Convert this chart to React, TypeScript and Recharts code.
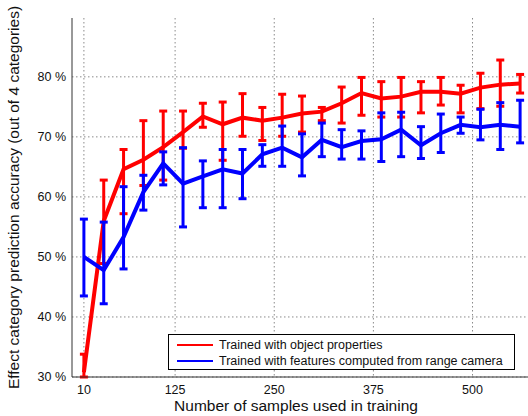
import { LineChart, Line, XAxis, YAxis, CartesianGrid, ErrorBar } from "recharts";

// number of training samples (x positions of the points)
const samples = [10, 35, 60, 85, 110, 135, 160, 185, 210, 235, 260, 285, 310, 335, 360, 385, 410, 435, 460, 485, 510, 535, 560];

// object properties (red): mean accuracy and error bar ends, in %
const objMean = [30.8, 56.0, 64.6, 66.2, 68.3, 70.8, 73.4, 72.1, 73.2, 72.7, 73.2, 73.9, 74.2, 75.6, 77.3, 76.4, 76.7, 77.5, 77.5, 77.2, 78.2, 78.7, 78.9];
const objLow = [30.0, 48.9, 57.2, 61.9, 62.8, 68.1, 71.6, 66.1, 70.1, 69.4, 70.1, 70.8, 72.7, 72.3, 73.6, 73.3, 73.3, 74.0, 75.3, 74.0, 74.7, 75.1, 77.3];
const objHigh = [33.8, 62.8, 67.9, 72.7, 74.3, 74.3, 75.6, 75.8, 77.2, 74.9, 77.1, 76.8, 74.9, 78.3, 79.9, 79.2, 79.9, 79.2, 79.9, 78.6, 80.6, 82.8, 80.4];

// range camera features (blue)
const camMean = [50.0, 47.8, 53.3, 60.8, 65.6, 62.2, 63.4, 64.6, 63.9, 67.1, 68.2, 66.6, 69.5, 68.3, 69.3, 69.6, 71.2, 68.6, 70.6, 72.0, 71.6, 72.0, 71.7];
const camLow = [43.5, 42.2, 48.0, 57.8, 62.0, 55.0, 58.2, 58.2, 59.7, 65.1, 65.1, 63.5, 66.7, 66.3, 66.3, 65.9, 66.7, 66.4, 67.4, 70.6, 69.5, 67.9, 69.0];
const camHigh = [56.3, 55.8, 61.7, 63.6, 67.5, 68.2, 66.0, 67.9, 67.9, 68.7, 71.8, 70.5, 72.3, 71.2, 71.0, 74.0, 74.1, 71.7, 73.8, 73.3, 74.6, 75.7, 76.1];

const xTicks = [10, 125, 250, 375, 500];
const yTicks = [30, 40, 50, 60, 70, 80];

const RED = "#ff0000";
const BLUE = "#0000ff";
const FONT = "'Liberation Sans', Arial, sans-serif";

const data = samples.map((n, i) => ({
  n,
  obj: objMean[i],
  objErr: [objMean[i] - objLow[i], objHigh[i] - objMean[i]],
  cam: camMean[i],
  camErr: [camMean[i] - camLow[i], camHigh[i] - camMean[i]],
}));

export default function App() {
  return (
    <div
      style={{
        position: "fixed",
        left: 0,
        top: 0,
        width: 528,
        height: 416,
        overflow: "hidden",
        background: "#fff",
        fontFamily: FONT,
      }}
    >
      <LineChart width={540} height={416} data={data} margin={{ top: 18, right: 8, left: 0, bottom: 0 }}>
        <CartesianGrid
          stroke="#8a8a8a"
          strokeDasharray="1.5 2.5"
          verticalValues={xTicks}
          horizontalValues={yTicks}
        />
        <XAxis
          dataKey="n"
          type="number"
          domain={[-5, 575]}
          allowDataOverflow
          ticks={xTicks}
          height={39}
          tickLine={false}
          tickSize={4}
          tickMargin={4}
          axisLine={{ stroke: "#333" }}
          tick={{ fontSize: 12.5, fill: "#111", fontFamily: FONT }}
          label={{
            value: "Number of samples used in training",
            position: "insideBottom",
            offset: 5,
            dx: -6,
            style: { fontSize: 15.5, fill: "#111", fontFamily: FONT },
          }}
        />
        <YAxis
          type="number"
          domain={[30, 89.8]}
          allowDataOverflow
          ticks={yTicks}
          width={72}
          tickLine={false}
          tickSize={2}
          tickMargin={4}
          axisLine={{ stroke: "#333" }}
          tick={{ fontSize: 12.5, fill: "#111", fontFamily: FONT }}
          tickFormatter={(v: number) => `${v} %`}
          label={{
            value: "Effect category prediction accuracy (out of 4 categories)",
            angle: -90,
            position: "insideLeft",
            offset: 13,
            textAnchor: "middle",
            style: { fontSize: 15.5, fill: "#111", fontFamily: FONT, textAnchor: "middle" },
          }}
        />
        <Line
          type="linear"
          dataKey="obj"
          stroke={RED}
          strokeWidth={4}
          dot={false}
          isAnimationActive={false}
        >
          <ErrorBar dataKey="objErr" direction="y" width={4} strokeWidth={3} stroke={RED} isAnimationActive={false} />
        </Line>
        <Line
          type="linear"
          dataKey="cam"
          stroke={BLUE}
          strokeWidth={4}
          dot={false}
          isAnimationActive={false}
        >
          <ErrorBar dataKey="camErr" direction="y" width={4} strokeWidth={3} stroke={BLUE} isAnimationActive={false} />
        </Line>
      </LineChart>
      <div
        style={{
          position: "absolute",
          left: 168,
          top: 334,
          width: 347,
          height: 36,
          border: "1.5px solid #000",
          background: "#fff",
          fontSize: 12.5,
          color: "#111",
          lineHeight: "16px",
          paddingTop: 2,
          boxSizing: "border-box",
          whiteSpace: "nowrap",
        }}
      >
        {[
          { color: RED, name: "Trained with object properties" },
          { color: BLUE, name: "Trained with features computed from range camera" },
        ].map((item) => (
          <div key={item.name} style={{ display: "flex", alignItems: "center", height: 16 }}>
            <span style={{ display: "inline-block", flex: "none", width: 36, height: 2, background: item.color, marginLeft: 8, marginRight: 6 }} />
            <span>{item.name}</span>
          </div>
        ))}
      </div>
    </div>
  );
}
